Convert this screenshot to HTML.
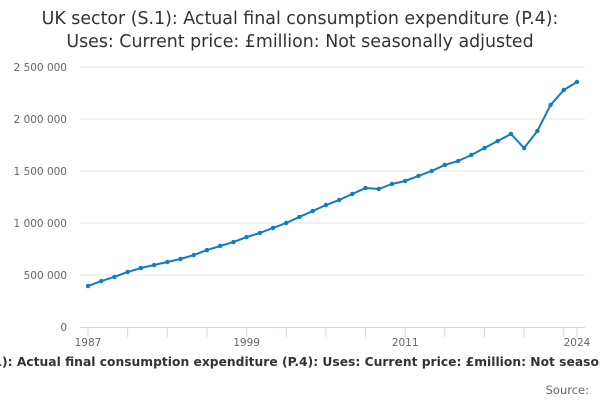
<!DOCTYPE html>
<html><head><meta charset="utf-8"><style>
html,body{margin:0;padding:0;width:600px;height:400px;overflow:hidden;background:#fff;font-family:"DejaVu Sans",sans-serif;}
#title{position:absolute;top:8px;left:0;width:600px;text-align:center;font-size:17.4px;line-height:23px;color:#333;}
#clip{position:absolute;top:355px;left:0;width:600px;height:20px;overflow:hidden;}
#foot{position:absolute;top:0;left:50%;transform:translateX(-50%);white-space:nowrap;font-size:12.3px;font-weight:bold;color:#333;}
#src{position:absolute;top:383px;right:11px;font-size:11.5px;color:#666;}
</style></head><body>
<div id="title">UK sector (S.1): Actual final consumption expenditure (P.4):<br>Uses: Current price: £million: Not seasonally adjusted</div>
<svg id="chart" width="600" height="400" style="position:absolute;top:0;left:0"></svg>
<div id="clip"><div id="foot">UK sector (S.1): Actual final consumption expenditure (P.4): Uses: Current price: £million: Not seasonally adjusted</div></div>
<div id="src">Source:</div>
<script>
const years=[1987,1988,1989,1990,1991,1992,1993,1994,1995,1996,1997,1998,1999,2000,2001,2002,2003,2004,2005,2006,2007,2008,2009,2010,2011,2012,2013,2014,2015,2016,2017,2018,2019,2020,2021,2022,2023,2024];
const values=[394000,442000,481000,529000,567000,596000,625000,654000,692000,740000,779000,817000,865000,904000,952000,1000000,1058000,1115000,1173000,1221000,1279000,1337000,1327000,1375000,1404000,1452000,1500000,1558000,1596000,1654000,1721000,1788000,1856000,1721000,1885000,2135000,2279000,2356000];
const yTicks=[0,500000,1000000,1500000,2000000,2500000];
const yTickLabels=["0","500 000","1 000 000","1 500 000","2 000 000","2 500 000"];
const xLabels=[1987,1999,2011,2024];
const NS="http://www.w3.org/2000/svg";
const svg=document.getElementById('chart');
const x=v=>88+(v-1987)*(577-88)/(2024-1987);
const y=v=>327-v*(52/500000);
function mk(t,a){const e=document.createElementNS(NS,t);for(const k in a)e.setAttribute(k,a[k]);svg.appendChild(e);return e;}
yTicks.forEach((t,i)=>{
  if(t>0){const g=mk('line',{x1:80,x2:585,y1:y(t),y2:y(t),stroke:'#e6e6e6','stroke-width':1});
  
  }
  const l=mk('text',{x:67,y:y(t)+4,'text-anchor':'end','font-size':10.5,fill:'#666','font-family':'DejaVu Sans, sans-serif'});
  l.textContent=yTickLabels[i];
  
  
});
const ax=mk('line',{x1:80,x2:585,y1:327.5,y2:327.5,stroke:'#ccd6eb','stroke-width':1});


for(let yr=1987;yr<=2024;yr+=3){
  const t=mk('line',{x1:x(yr),x2:x(yr),y1:327,y2:337,stroke:'#ccd6eb','stroke-width':1});
  
  
}
const t2=mk('line',{x1:x(2024),x2:x(2024),y1:327,y2:337,stroke:'#ccd6eb','stroke-width':1});


xLabels.forEach(yr=>{
  const l=mk('text',{x:x(yr),y:346,'text-anchor':'middle','font-size':10.5,fill:'#666','font-family':'DejaVu Sans, sans-serif'});
  l.textContent=yr;
  
  
});
const p=mk('polyline',{points:years.map((yr,i)=>x(yr)+','+y(values[i])).join(' '),fill:'none',stroke:'#0f7dc2','stroke-width':2,'stroke-linejoin':'round'});


years.forEach((yr,i)=>{
  const c=mk('circle',{cx:x(yr),cy:y(values[i]),r:2.2,fill:'#0f7dc2'});
  
  
});
</script>
</body></html>
